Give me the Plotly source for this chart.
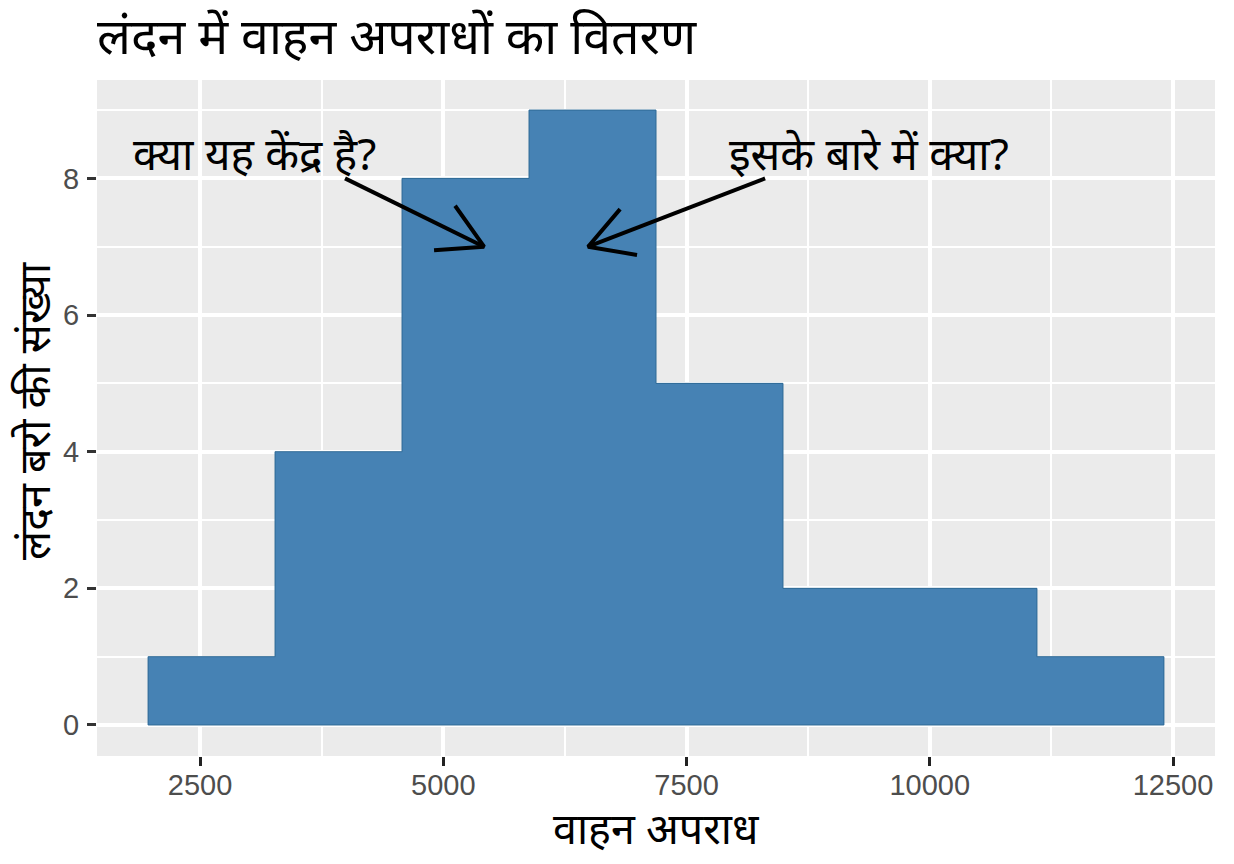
import plotly.graph_objects as go

bin_left = [1966, 3271, 4576, 5881, 7186, 8491, 9796, 11101]
bin_width = 1305
counts = [1, 4, 8, 9, 5, 2, 2, 1]
x_ticks = [2500, 5000, 7500, 10000, 12500]
x_minor = [3750, 6250, 8750, 11250]
y_ticks = [0, 2, 4, 6, 8]
y_minor = [1, 3, 5, 7, 9]
title = "लंदन में वाहन अपराधों का वितरण"
x_title = "वाहन अपराध"
y_title = "लंदन बरो की संख्या"
note_left = "क्या यह केंद्र है?"
note_right = "इसके बारे में क्या?"
arrow_left_x = [3990, 5419, None, 5121, 5419, 4905]
arrow_left_y = [8.0, 7.0, None, 7.6, 7.0, 6.95]
arrow_right_x = [8307, 6488, None, 6817, 6488, 6991]
arrow_right_y = [8.0, 7.0, None, 7.55, 7.0, 6.88]

FONT = "Noto Sans, Noto Sans Devanagari, sans-serif"
fig = go.Figure()
fig.add_bar(x=[l + bin_width / 2 for l in bin_left], y=counts, width=bin_width,
            marker=dict(color="#4682B4", line=dict(width=0)), hoverinfo="skip")

# thin darker outline around the whole histogram, derived from the bin arrays
outline_x, outline_y = [bin_left[0]], [0]
for l, c in zip(bin_left, counts):
    outline_x += [l, l + bin_width]
    outline_y += [c, c]
outline_x.append(bin_left[-1] + bin_width)
outline_y.append(0)
outline_x.append(bin_left[0])
outline_y.append(0)
fig.add_scatter(x=outline_x, y=outline_y, mode="lines", line=dict(color="#2F6A96", width=1), hoverinfo="skip")

for ax, ay in ((arrow_left_x, arrow_left_y), (arrow_right_x, arrow_right_y)):
    fig.add_scatter(x=ax, y=ay, mode="lines", line=dict(color="black", width=4), hoverinfo="skip")

fig.add_annotation(x=3055, y=8.37, text=note_left, showarrow=False, font=dict(size=44, color="black", family=FONT))
fig.add_annotation(x=9376, y=8.37, text=note_right, showarrow=False, font=dict(size=44, color="black", family=FONT))
fig.add_annotation(xref="paper", yref="paper", x=-64 / 1118, y=345 / 676, text=y_title, textangle=-90,
                   xanchor="center", yanchor="middle",
                   showarrow=False, font=dict(size=43, color="black", family=FONT))
fig.add_annotation(xref="paper", yref="paper", x=0.5, y=-71 / 676, text=x_title,
                   xanchor="center", yanchor="middle",
                   showarrow=False, font=dict(size=43, color="black", family=FONT))

fig.update_layout(
    width=1234, height=864, showlegend=False, bargap=0,
    paper_bgcolor="white", plot_bgcolor="#EBEBEB",
    margin=dict(l=97, r=19, t=80, b=108),
    font=dict(family=FONT),
    title=dict(text=title, x=97 / 1234, xanchor="left", y=0.958, yanchor="middle",
               font=dict(size=50, color="black", family=FONT)),
)
fig.update_xaxes(range=[1441, 12931], tickvals=x_ticks, ticks="outside", ticklen=9, tickwidth=3, tickcolor="#222222",
                 tickformat="d", ticklabelstandoff=-6,
                 tickfont=dict(size=29, color="#4D4D4D", family="Liberation Sans"),
                 showgrid=True, gridcolor="white", gridwidth=3.5, zeroline=False, showline=False,
                 minor=dict(tickvals=x_minor, showgrid=True, gridcolor="white", gridwidth=1.8, ticks=""))
fig.update_yaxes(range=[-0.454, 9.44], tickvals=y_ticks, ticks="outside", ticklen=9, tickwidth=2.5, tickcolor="#333333",
                 ticklabelstandoff=2,
                 tickfont=dict(size=29, color="#4D4D4D", family="Liberation Sans"),
                 showgrid=True, gridcolor="white", gridwidth=3.5, zeroline=False, showline=False,
                 minor=dict(tickvals=y_minor, showgrid=True, gridcolor="white", gridwidth=1.8, ticks=""))
fig.write_html("out.html", post_script="document.body.style.margin='0';", config=dict(displayModeBar=False))
